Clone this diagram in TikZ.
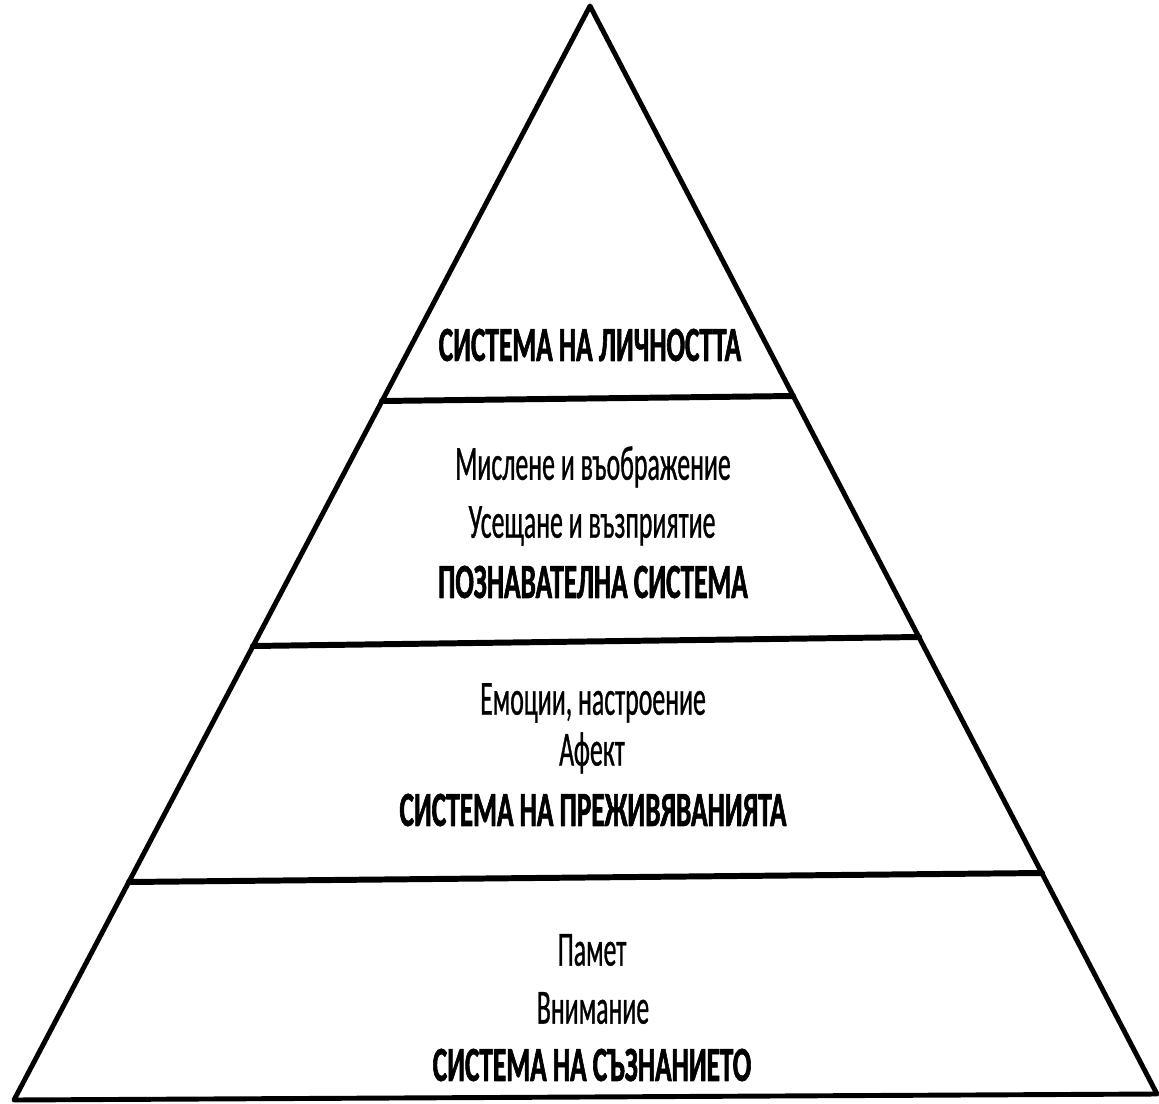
\documentclass[tikz,border=0pt]{standalone}
\usepackage{fontspec}
\setmainfont{Carlito}[FakeStretch=0.525,FakeBold=0.6,BoldFeatures={FakeStretch=0.555,FakeBold=1.2}]
\begin{document}
\begin{tikzpicture}[x=0.02cm,y=-0.02cm,line width=2.8pt,line join=round,line cap=round,
	lbl/.style={font=\fontsize{28}{32}\selectfont},
	ttl/.style={font=\fontsize{28}{32}\selectfont\bfseries}]
	\useasboundingbox (0,0) rectangle (1159,1104);
	\draw (590,6)--(14,1100)--(1157,1094)--cycle;
	\draw[line width=3.4pt] (382,401)--(793,396) (253,646)--(919,637) (129,882)--(1042,873);
	% levels
	\node[ttl] (lichnost) at (590,345) {СИСТЕМА НА ЛИЧНОСТТА};
	\node[lbl] (mislene) at (593,467) {Мислене и въображение};
	\node[lbl] (useshtane) at (592,526) {Усещане и възприятие};
	\node[ttl] (poznavatelna) at (593,582) {ПОЗНАВАТЕЛНА СИСТЕМА};
	\node[lbl] (emocii) at (593,703) {Емоции, настроение};
	\node[lbl] (afekt) at (592,753) {Афект};
	\node[ttl] (prejivyavania) at (593,810) {СИСТЕМА НА ПРЕЖИВЯВАНИЯТА};
	\node[lbl] (pamet) at (592,950) {Памет};
	\node[lbl] (vnimanie) at (593,1008) {Внимание};
	\node[ttl] (saznanie) at (592,1065) {СИСТЕМА НА СЪЗНАНИЕТО};
\end{tikzpicture}
\end{document}
